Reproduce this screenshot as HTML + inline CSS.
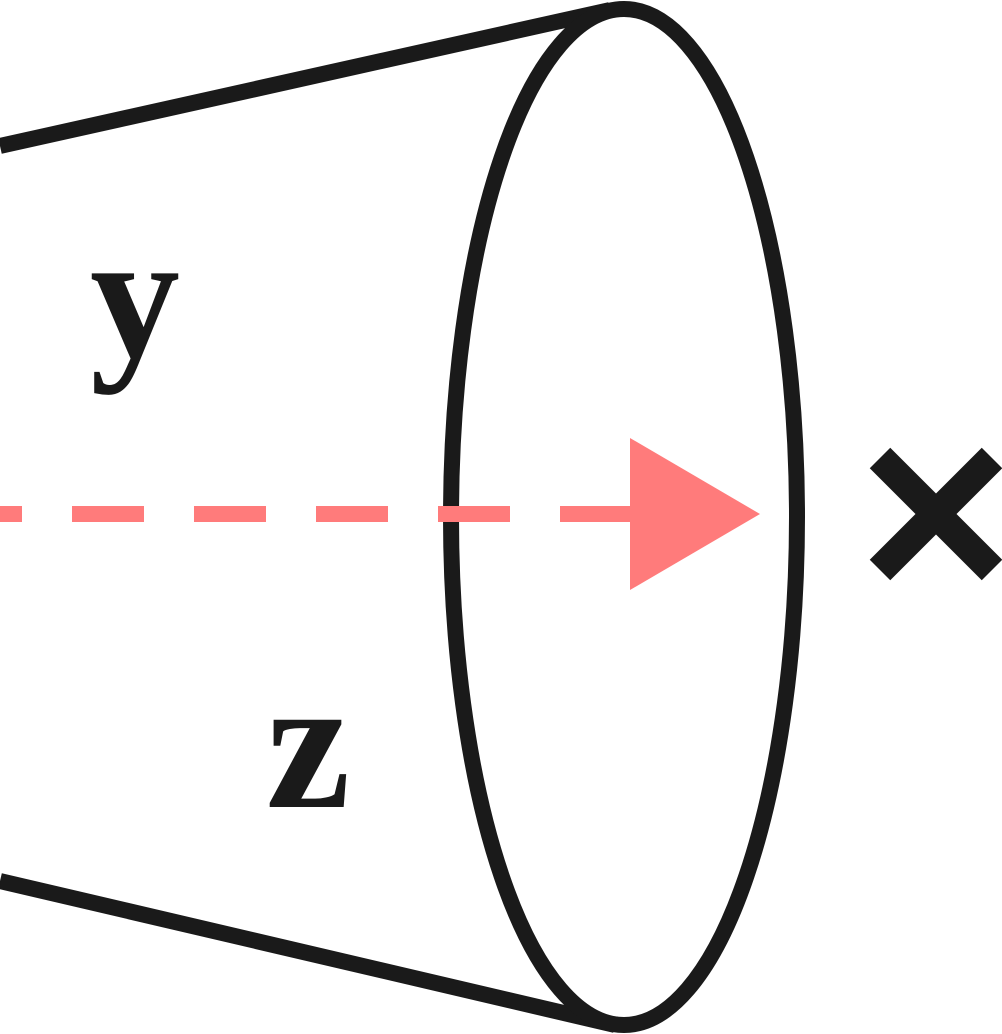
<!DOCTYPE html>
<html><head><meta charset="utf-8"><style>
html,body{margin:0;padding:0;background:#fff;}
svg{display:block;}
</style></head><body>
<svg width="1002" height="1034" viewBox="0 0 1002 1034" xmlns="http://www.w3.org/2000/svg">
<line x1="0" y1="146" x2="610" y2="10" stroke="#1a1a1a" stroke-width="16"/>
<line x1="0" y1="881" x2="615" y2="1025" stroke="#1a1a1a" stroke-width="16"/>
<ellipse cx="624" cy="517" rx="173" ry="508" fill="#fff" stroke="#1a1a1a" stroke-width="16"/>
<line x1="0" y1="514" x2="632" y2="514" stroke="#ff7b7b" stroke-width="16" stroke-dasharray="72 50" stroke-dashoffset="50"/>
<polygon points="630,438 760,514 630,590" fill="#ff7b7b"/>
<line x1="880" y1="458" x2="992" y2="570" stroke="#1a1a1a" stroke-width="29"/>
<line x1="992" y1="458" x2="880" y2="570" stroke="#1a1a1a" stroke-width="29"/>
<text x="90" y="356" font-family="Liberation Serif, serif" font-weight="bold" font-size="180" fill="#1a1a1a">y</text>
<text x="266" y="807" font-family="Liberation Serif, serif" font-weight="bold" font-size="190" fill="#1a1a1a">z</text>
</svg>
</body></html>
